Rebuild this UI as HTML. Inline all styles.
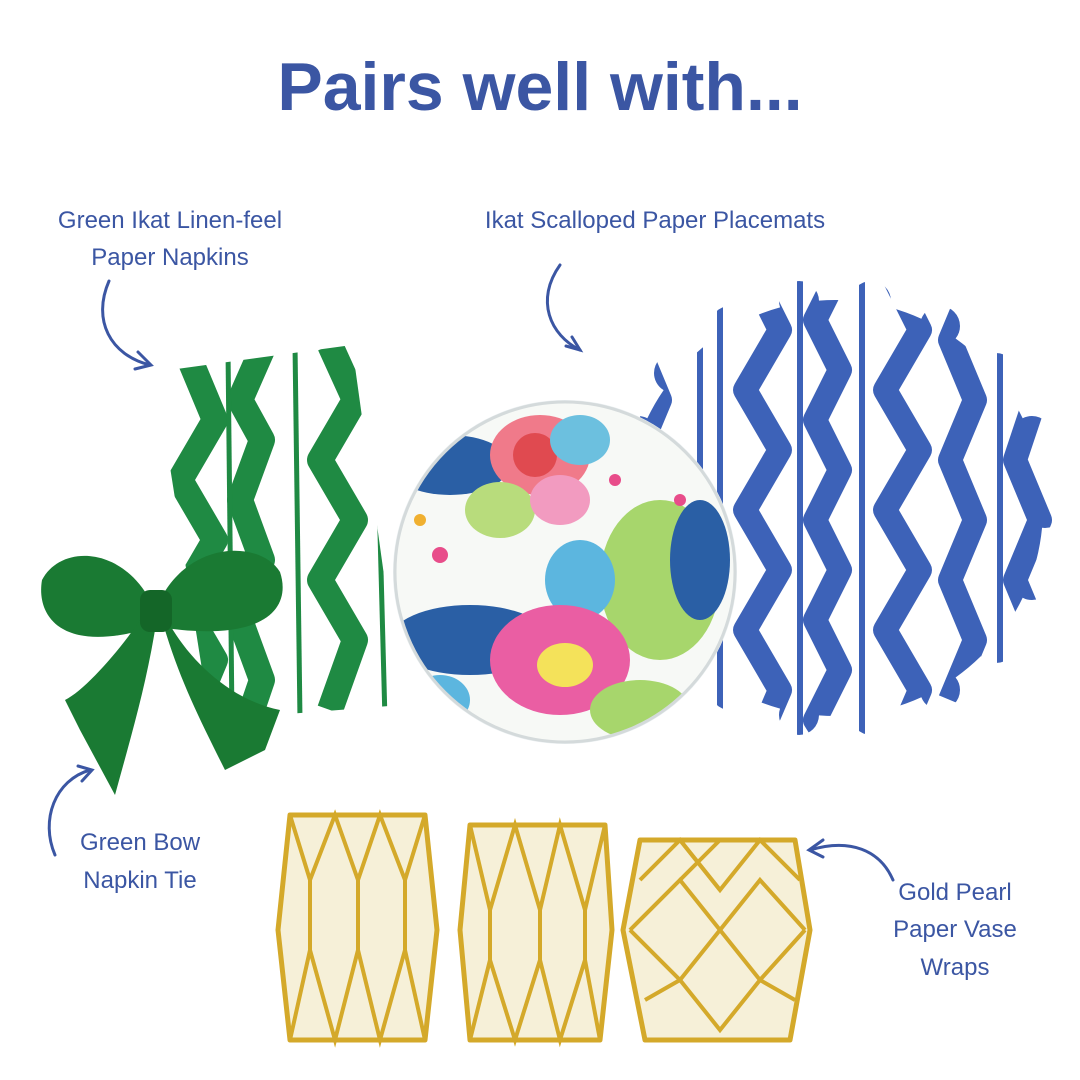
<!DOCTYPE html>
<html><head><meta charset="utf-8"><style>
html,body{margin:0;padding:0;background:#fff}
svg{display:block}
text{font-family:"Liberation Sans",sans-serif;fill:#3b56a3}
</style></head><body>
<svg width="1080" height="1080" viewBox="0 0 1080 1080" xmlns="http://www.w3.org/2000/svg">
<defs>
<clipPath id="napk"><polygon points="155,372 352,345 402,705 210,720"/></clipPath>
<clipPath id="place">
<circle cx="835" cy="508" r="208"/>
<circle cx="1045" cy="508" r="20"/><circle cx="1032" cy="580" r="20"/><circle cx="1032" cy="436" r="20"/>
<circle cx="996" cy="643" r="20"/><circle cx="996" cy="373" r="20"/><circle cx="940" cy="690" r="20"/><circle cx="940" cy="326" r="20"/>
<circle cx="871" cy="715" r="20"/><circle cx="871" cy="301" r="20"/><circle cx="799" cy="715" r="20"/><circle cx="799" cy="301" r="20"/>
<circle cx="730" cy="690" r="20"/><circle cx="730" cy="326" r="20"/><circle cx="674" cy="643" r="20"/><circle cx="674" cy="373" r="20"/>
<circle cx="638" cy="580" r="20"/><circle cx="638" cy="436" r="20"/><circle cx="625" cy="508" r="20"/>
</clipPath>
<clipPath id="plate"><circle cx="565" cy="572" r="170"/></clipPath>
</defs>

<text x="540" y="110" text-anchor="middle" font-size="68" font-weight="bold">Pairs well with...</text>

<text x="170" y="228" text-anchor="middle" font-size="24">Green Ikat Linen-feel</text>
<text x="170" y="265" text-anchor="middle" font-size="24">Paper Napkins</text>
<text x="655" y="228" text-anchor="middle" font-size="24">Ikat Scalloped Paper Placemats</text>
<text x="140" y="850" text-anchor="middle" font-size="24">Green Bow</text>
<text x="140" y="888" text-anchor="middle" font-size="24">Napkin Tie</text>
<text x="955" y="900" text-anchor="middle" font-size="24">Gold Pearl</text>
<text x="955" y="937" text-anchor="middle" font-size="24">Paper Vase</text>
<text x="955" y="975" text-anchor="middle" font-size="24">Wraps</text>

<g fill="none" stroke="#3b56a3" stroke-width="3" stroke-linecap="round">
<path d="M109,281 C92,320 110,355 150,365"/><path d="M138,352 L151,365 L135,369"/>
<path d="M560,265 C535,300 550,335 580,350"/><path d="M566,346 L580,350 L572,337"/>
<path d="M90,770 C55,780 40,820 55,855"/><path d="M78,766 L92,770 L82,781"/>
<path d="M893,880 C880,850 850,838 810,850"/><path d="M823,840 L809,850 L823,857"/>
</g>

<!-- napkin -->
<g clip-path="url(#napk)">
<rect x="140" y="330" width="280" height="400" fill="#fff"/>
<g fill="none" stroke="#1f8a43" stroke-width="26" stroke-linejoin="round">
<polyline points="190,360 215,420 180,480 215,540 180,600 215,660 190,720"/>
<polyline points="262,350 240,400 262,440 240,500 262,560 240,620 262,680 245,730"/>
<polyline points="330,345 355,400 320,460 355,520 320,580 355,640 330,710"/>
</g>
<g stroke="#1f8a43" stroke-width="5">
<line x1="228" y1="350" x2="232" y2="720"/><line x1="295" y1="345" x2="300" y2="720"/><line x1="375" y1="345" x2="385" y2="720"/>
</g>
</g>

<!-- placemat -->
<g clip-path="url(#place)">
<rect x="600" y="260" width="470" height="500" fill="#fff"/>
<g fill="none" stroke="#3d62b8" stroke-width="24" stroke-linejoin="round">
<polyline points="655,280 635,340 660,400 635,460 660,520 635,580 660,640 635,700 655,760"/>
<polyline points="750,270 780,330 745,390 780,450 745,510 780,570 745,630 780,690 750,760"/>
<polyline points="840,270 815,320 840,370 815,420 840,470 815,520 840,570 815,620 840,670 815,720 840,760"/>
<polyline points="890,270 920,330 885,390 920,450 885,510 920,570 885,630 920,690 890,760"/>
<polyline points="975,280 950,340 975,400 950,460 975,520 950,580 975,640 950,700"/>
<polyline points="1035,400 1015,460 1040,520 1015,580 1040,640"/>
</g>
<g stroke="#3d62b8" stroke-width="6">
<line x1="700" y1="270" x2="700" y2="760"/><line x1="720" y1="270" x2="720" y2="760"/>
<line x1="800" y1="270" x2="800" y2="760"/><line x1="862" y1="270" x2="862" y2="760"/>
<line x1="1000" y1="300" x2="1000" y2="740"/>
</g>
</g>

<!-- plate -->
<circle cx="565" cy="572" r="172" fill="#e9eef0"/>
<g clip-path="url(#plate)">
<rect x="390" y="400" width="350" height="350" fill="#f7f9f6"/>
<ellipse cx="450" cy="465" rx="60" ry="30" fill="#2a5fa5"/>
<ellipse cx="540" cy="455" rx="50" ry="40" fill="#f07a8a"/>
<ellipse cx="535" cy="455" rx="22" ry="22" fill="#e04a50"/>
<ellipse cx="580" cy="440" rx="30" ry="25" fill="#6cc0df"/>
<ellipse cx="500" cy="510" rx="35" ry="28" fill="#b8dc7c"/>
<ellipse cx="560" cy="500" rx="30" ry="25" fill="#f29bc0"/>
<ellipse cx="660" cy="580" rx="60" ry="80" fill="#a7d66c"/>
<ellipse cx="700" cy="560" rx="30" ry="60" fill="#2a5fa5"/>
<ellipse cx="580" cy="580" rx="35" ry="40" fill="#5cb6df"/>
<ellipse cx="470" cy="640" rx="80" ry="35" fill="#2a5fa5"/>
<ellipse cx="560" cy="660" rx="70" ry="55" fill="#ea5ea3"/>
<ellipse cx="565" cy="665" rx="28" ry="22" fill="#f4e25a"/>
<ellipse cx="440" cy="700" rx="30" ry="25" fill="#5cb6df"/>
<ellipse cx="640" cy="710" rx="50" ry="30" fill="#a7d66c"/>
<circle cx="440" cy="555" r="8" fill="#e84d8a"/><circle cx="420" cy="520" r="6" fill="#f0b030"/>
<circle cx="615" cy="480" r="6" fill="#e84d8a"/><circle cx="680" cy="500" r="6" fill="#e84d8a"/>
</g>
<circle cx="565" cy="572" r="170" fill="none" stroke="#d4dadb" stroke-width="3"/>

<!-- bow -->
<g fill="#1a7a33">
<path d="M150,600 C120,545 60,545 42,580 C36,615 60,655 150,628 Z"/>
<path d="M160,600 C190,540 260,540 280,572 C292,608 265,642 165,628 Z"/>
<path d="M140,620 C120,650 85,690 65,700 L80,730 L115,795 C130,740 145,690 155,630 Z"/>
<path d="M170,625 C190,660 230,700 280,710 L265,750 L225,770 C200,720 180,680 165,630 Z"/>
<rect x="140" y="590" width="32" height="42" rx="10" fill="#146628"/>
</g>

<!-- vases -->
<g stroke="#d4a92a" stroke-width="5" stroke-linejoin="round">
<path d="M290,815 L425,815 L437,930 L425,1040 L290,1040 L278,930 Z" fill="#f6f0d8"/>
<path d="M470,825 L605,825 L612,930 L600,1040 L470,1040 L460,930 Z" fill="#f6f0d8"/>
<path d="M640,840 L795,840 L810,930 L790,1040 L645,1040 L623,930 Z" fill="#f6f0d8"/>
</g>
<g fill="none" stroke="#d4a92a" stroke-width="4">
<polyline points="290,815 310,880 335,815 358,880 380,815 405,880 425,815"/>
<polyline points="290,1040 310,950 335,1040 358,950 380,1040 405,950 425,1040"/>
<line x1="310" y1="880" x2="310" y2="950"/><line x1="358" y1="880" x2="358" y2="950"/><line x1="405" y1="880" x2="405" y2="950"/>
<polyline points="470,825 490,910 515,825 540,910 560,825 585,910 605,825"/>
<polyline points="470,1040 490,960 515,1040 540,960 560,1040 585,960 600,1040"/>
<line x1="490" y1="910" x2="490" y2="960"/><line x1="540" y1="910" x2="540" y2="960"/><line x1="585" y1="910" x2="585" y2="960"/>
<polyline points="640,880 680,840 720,890 760,840 800,880"/>
<polyline points="630,930 680,880 720,930 760,880 805,930"/>
<polyline points="630,930 680,980 720,930 760,980 805,930"/>
<polyline points="645,1000 680,980 720,1030 760,980 795,1000"/>
<polyline points="680,880 720,840"/><polyline points="720,890 680,840"/>
</g>
</svg>
</body></html>
